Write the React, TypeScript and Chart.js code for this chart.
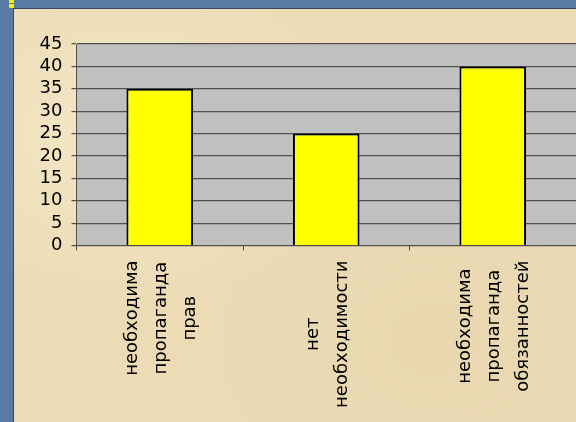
import React, { useEffect, useRef } from "react";
import { Chart, registerables } from "chart.js";

Chart.register(...registerables);

const categories: string[][] = [
  ["необходима", "пропаганда", "прав"],
  ["нет", "необходимости"],
  ["необходима", "пропаганда", "обязанностей"],
];
const values: number[] = [35, 25, 40];
const yMin = 0;
const yMax = 45;
const yStep = 5;

const FONT = "'DejaVu Sans', sans-serif";

const plotBg = {
  id: "plotBg",
  beforeDraw(chart: any) {
    const { ctx, chartArea } = chart;
    ctx.save();
    ctx.fillStyle = "#c0c0c0";
    ctx.fillRect(chartArea.left, chartArea.top, chartArea.right - chartArea.left, chartArea.bottom - chartArea.top);
    ctx.restore();
  },
};

const rotatedLabels = {
  id: "rotatedLabels",
  afterDraw(chart: any) {
    const { ctx } = chart;
    const xs = chart.scales.x;
    const top = xs.top + 15;
    const lineGap = 29;
    ctx.save();
    ctx.font = `18px ${FONT}`;
    ctx.fillStyle = "#000";
    ctx.textAlign = "center";
    ctx.textBaseline = "middle";
    categories.forEach((lines, i) => {
      const x = xs.getPixelForTick(i) + 1.5;
      const maxW = Math.max(...lines.map((l) => ctx.measureText(l).width));
      ctx.save();
      ctx.translate(x, top + maxW / 2);
      ctx.rotate(-Math.PI / 2);
      lines.forEach((l, j) => {
        ctx.fillText(l, 0, (j - (lines.length - 1) / 2) * lineGap);
      });
      ctx.restore();
    });
    ctx.restore();
  },
};

export default function App() {
  const ref = useRef<HTMLCanvasElement>(null);
  useEffect(() => {
    if (!ref.current) return;
    const chart = new Chart(ref.current, {
      type: "bar",
      data: {
        labels: categories.map((c) => c.join(" ")),
        datasets: [
          {
            data: values,
            backgroundColor: "#ffff00",
            borderColor: "#000000",
            borderWidth: 2,
            categoryPercentage: 1,
            barPercentage: 0.4,
          },
        ],
      },
      options: {
        animation: false,
        responsive: false,
        devicePixelRatio: 1,
        layout: { padding: { top: 44, left: 0, right: 0, bottom: 0 } },
        plugins: { legend: { display: false }, tooltip: { enabled: false }, title: { display: false } },
        scales: {
          x: {
            offset: true,
            ticks: { display: false },
            grid: {
              offset: true,
              drawOnChartArea: false,
              drawTicks: true,
              tickLength: 5,
              color: "#505050",
            },
            border: { display: true, color: "#505050", width: 1 },
            afterFit: (s: any) => {
              s.height = 422 - 245.5;
            },
          },
          y: {
            min: yMin,
            max: yMax,
            ticks: {
              stepSize: yStep,
              autoSkip: false,
              color: "#000",
              font: { family: FONT, size: 18 },
              padding: 9,
            },
            grid: { color: "#505050", lineWidth: 1.2, tickLength: 5 },
            border: { display: true, color: "#505050", width: 1 },
            afterFit: (s: any) => {
              s.width = 76.5;
            },
          },
        },
      },
      plugins: [plotBg, rotatedLabels],
    });
    return () => chart.destroy();
  }, []);

  return (
    <div style={{ position: "fixed", left: 0, top: 0, width: 576, height: 422, overflow: "hidden", background: "#5a7aa6" }}>
      <div style={{ position: "absolute", left: 9, top: 0, width: 5, height: 3, background: "#f2f200" }} />
      <div style={{ position: "absolute", left: 9, top: 4, width: 5, height: 4, background: "#f2f200" }} />
      <div
        style={{
          position: "absolute",
          left: 13,
          top: 8,
          width: 563,
          height: 414,
          borderLeft: "1px solid #34455e",
          borderTop: "1px solid #34455e",
          boxSizing: "border-box",
          background:
            "radial-gradient(ellipse at 20% 30%, rgba(248,236,204,0.7), rgba(248,236,204,0) 40%), radial-gradient(ellipse at 75% 80%, rgba(228,210,168,0.5), rgba(228,210,168,0) 45%), #ecdcb6",
        }}
      />
      <canvas ref={ref} width={576} height={422} style={{ position: "absolute", left: 0, top: 0, width: 576, height: 422 }} />
    </div>
  );
}
